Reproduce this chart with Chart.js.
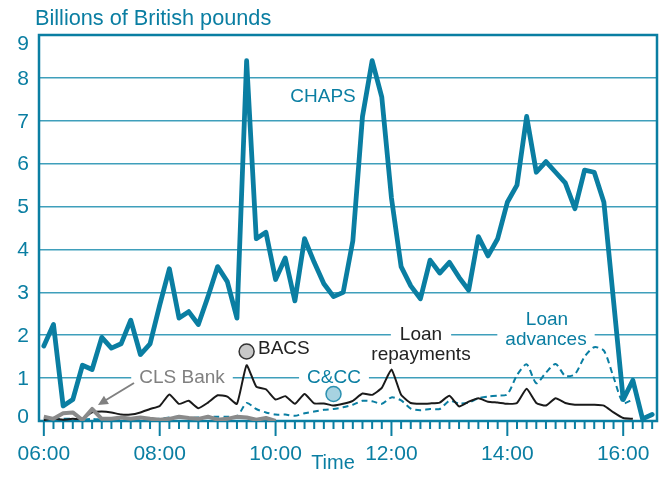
<!DOCTYPE html>
<html>
<head>
<meta charset="utf-8">
<script src="https://cdn.jsdelivr.net/npm/chart.js@4"></script>
<style>
  body { margin: 0; background: #fff; }
</style>
</head>
<body>
<canvas id="grafico" width="661" height="479"></canvas>
<script>
const horas = [
  "06:00", "06:10", "06:20", "06:30", "06:40", "06:50",
  "07:00", "07:10", "07:20", "07:30", "07:40", "07:50",
  "08:00", "08:10", "08:20", "08:30", "08:40", "08:50",
  "09:00", "09:10", "09:20", "09:30", "09:40", "09:50",
  "10:00", "10:10", "10:20", "10:30", "10:40", "10:50",
  "11:00", "11:10", "11:20", "11:30", "11:40", "11:50",
  "12:00", "12:10", "12:20", "12:30", "12:40", "12:50",
  "13:00", "13:10", "13:20", "13:30", "13:40", "13:50",
  "14:00", "14:10", "14:20", "14:30", "14:40", "14:50",
  "15:00", "15:10", "15:20", "15:30", "15:40", "15:50",
  "16:00", "16:10", "16:20", "16:30"
];
const etiquetasEje = ["06:00", "08:00", "10:00", "12:00", "14:00", "16:00"];
const valoresEje = [0, 1, 2, 3, 4, 5, 6, 7, 8, 9];

const chaps = [
  1.75, 2.25, 0.35, 0.5, 1.3, 1.2,
  1.95, 1.7, 1.8, 2.35, 1.55, 1.8,
  2.7, 3.55, 2.4, 2.55, 2.25, 2.9,
  3.6, 3.25, 2.4, 8.4, 4.25, 4.4,
  3.3, 3.8, 2.8, 4.25, 3.7, 3.2,
  2.9, 3.0, 4.2, 7.1, 8.4, 7.55,
  5.2, 3.6, 3.15, 2.85, 3.75, 3.45,
  3.7, 3.35, 3.05, 4.3, 3.85, 4.25,
  5.1, 5.5, 7.1, 5.8, 6.05, 5.8,
  5.55, 4.95, 5.85, 5.8, 5.1, 2.8,
  0.5, 0.95, 0.05, 0.15
];

const clsBank = [
  0.1, 0.05, 0.18, 0.2, 0.02, 0.28,
  0.05, 0.05, 0.08, 0.05, 0.08, 0.05,
  0.03, 0.05, 0.1, 0.07, 0.05, 0.1,
  0.03, 0.05, 0.1, 0.08, 0.03, 0.07,
  0.0
];

const devoluciones = [
  0.02, 0.05, 0.03, 0.05, 0.05, 0.2,
  0.22, 0.2, 0.15, 0.15, 0.2, 0.28,
  0.35, 0.62, 0.4, 0.47, 0.3, 0.43,
  0.6, 0.57, 0.4, 1.3, 0.8, 0.74,
  0.5, 0.58, 0.4, 0.63, 0.41, 0.41,
  0.36, 0.4, 0.47, 0.64, 0.61, 0.77,
  1.2, 0.61, 0.42, 0.4, 0.41, 0.43,
  0.59, 0.34, 0.45, 0.53, 0.45, 0.43,
  0.4, 0.42, 0.75, 0.42, 0.36, 0.53,
  0.42, 0.38, 0.38, 0.38, 0.36, 0.2,
  0.07, 0.05
];

const adelantos = [
  0.03, 0.03, 0.05, 0.05, 0.03, 0.05,
  0.03, 0.03, 0.05, 0.05, 0.05, 0.05,
  0.05, 0.08, 0.1, 0.08, 0.08, 0.1,
  0.1, 0.1, 0.1, 0.42, 0.28, 0.2,
  0.15, 0.15, 0.12, 0.18, 0.22, 0.26,
  0.28, 0.32, 0.38, 0.47, 0.46, 0.4,
  0.55, 0.48, 0.29, 0.25, 0.28, 0.28,
  0.47, 0.41, 0.43, 0.53, 0.57, 0.59,
  0.62, 1.07, 1.32, 0.88, 1.13, 1.33,
  1.05, 1.09, 1.5, 1.72, 1.64, 1.02,
  0.42, 0.5
];

const bacs = [{ x: "09:30", y: 1.62 }];
const cycc = [{ x: "11:00", y: 0.63 }];

const TEAL = "#0a7ea2";
const GRID = "#3f9fbb";
const FUENTE = "'Liberation Sans', Arial, sans-serif";

function texto(ctx, str, x, y, color, align, fondo) {
  ctx.font = "19px " + FUENTE;
  ctx.textAlign = align;
  ctx.textBaseline = "middle";
  if (fondo) {
    const w = ctx.measureText(str).width;
    const x0 = align === "center" ? x - w / 2 : x;
    ctx.fillStyle = "#fff";
    ctx.fillRect(x0 - fondo, y - 11, w + 2 * fondo, 22);
  }
  ctx.fillStyle = color;
  ctx.fillText(str, x, y);
}

const marco = {
  id: "marco",
  beforeDraw(chart) {
    const c = chart.ctx;
    c.save();
    c.fillStyle = "#fff";
    c.fillRect(0, 0, chart.width, chart.height);
    c.restore();
  },
  beforeDatasetsDraw(chart) {
    const c = chart.ctx;
    const a = chart.chartArea;
    const xs = chart.scales.x;
    const ys = chart.scales.y;
    c.save();
    // marco del grafico
    c.strokeStyle = TEAL;
    c.lineWidth = 2.5;
    c.strokeRect(a.left, a.top, a.right - a.left, a.bottom - a.top);
    // marcas del eje x
    c.lineWidth = 2;
    horas.forEach((h, i) => {
      const px = xs.getPixelForValue(i);
      const largo = etiquetasEje.includes(h) ? 15 : 8;
      c.beginPath();
      c.moveTo(px, a.bottom);
      c.lineTo(px, a.bottom + largo);
      c.stroke();
    });
    // numeros del eje y (0 y 9 van hacia dentro)
    c.font = "21px " + FUENTE;
    c.fillStyle = TEAL;
    c.textAlign = "right";
    c.textBaseline = "middle";
    valoresEje.forEach(v => {
      let py = ys.getPixelForValue(v);
      if (v === 9) py += 8;
      if (v === 0) py -= 5;
      c.fillText(String(v), a.left - 10, py + 1);
    });
    // titulos
    c.font = "21.7px " + FUENTE;
    c.textAlign = "left";
    c.textBaseline = "alphabetic";
    c.fillText("Billions of British pounds", 35, 25);
    c.font = "20px " + FUENTE;
    c.textAlign = "center";
    c.fillText("Time", 333, 469);
    // etiquetas de series
    texto(c, "CHAPS", 323, 97, TEAL, "center");
    texto(c, "BACS", 258, 349, "#222", "left");
    texto(c, "CLS Bank", 182, 378, "#808080", "center", 8);
    texto(c, "C&CC", 334, 378, TEAL, "center", 8);
    texto(c, "Loan", 421, 335, "#222", "center", 9);
    texto(c, "repayments", 421, 355, "#222", "center");
    texto(c, "Loan", 547, 320, TEAL, "center");
    texto(c, "advances", 546, 340, TEAL, "center", 8);
    // flecha CLS Bank
    c.strokeStyle = "#808080";
    c.fillStyle = "#808080";
    c.lineWidth = 2;
    c.beginPath();
    c.moveTo(134, 383);
    c.lineTo(106, 400);
    c.stroke();
    const ang = Math.atan2(405 - 383, 98 - 134);
    c.beginPath();
    c.moveTo(98, 405);
    c.lineTo(98 - 11 * Math.cos(ang - 0.45), 405 - 11 * Math.sin(ang - 0.45));
    c.lineTo(98 - 11 * Math.cos(ang + 0.45), 405 - 11 * Math.sin(ang + 0.45));
    c.closePath();
    c.fill();
    c.restore();
  }
};

const ctx = document.getElementById("grafico").getContext("2d");
new Chart(ctx, {
  type: "line",
  data: {
    labels: horas,
    datasets: [
      { label: "CHAPS", data: chaps, borderColor: TEAL, borderWidth: 4.8, pointRadius: 0, borderJoinStyle: "round", borderCapStyle: "round" },
      { label: "CLS Bank", data: clsBank, borderColor: "#8a8a8a", borderWidth: 4, pointRadius: 0, borderJoinStyle: "round" },
      { label: "BACS", data: bacs, showLine: false, pointRadius: 7.5, pointBackgroundColor: "#c8c8c8", pointBorderColor: "#333", pointBorderWidth: 1.5 },
      { label: "C&CC", data: cycc, showLine: false, pointRadius: 7.5, pointBackgroundColor: "#a7d3e1", pointBorderColor: "#2b90b0", pointBorderWidth: 1.5 },
      { label: "Loan repayments", data: devoluciones, borderColor: "#1a1a1a", borderWidth: 2, pointRadius: 0, tension: 0.15 },
      { label: "Loan advances", data: adelantos, borderColor: TEAL, borderWidth: 2, borderDash: [6, 4], pointRadius: 0, tension: 0.25 }
    ]
  },
  options: {
    responsive: false,
    animation: false,
    layout: { autoPadding: false, padding: { top: 35, right: 4, left: 0, bottom: 0 } },
    plugins: { legend: { display: false }, tooltip: { enabled: false } },
    scales: {
      x: {
        type: "category",
        offset: true,
        grid: { display: false, drawTicks: false },
        border: { display: false },
        ticks: {
          autoSkip: false,
          maxRotation: 0,
          padding: 21,
          color: TEAL,
          font: { family: FUENTE, size: 21 },
          callback: (v, i) => etiquetasEje.includes(horas[i]) ? horas[i] : ""
        },
        afterFit: s => { s.height = 58; s.paddingLeft = 0; s.paddingRight = 0; }
      },
      y: {
        min: 0,
        max: 9,
        ticks: { stepSize: 1, display: false },
        grid: { color: GRID, lineWidth: 1.5, drawTicks: false },
        border: { display: false },
        afterFit: s => { s.width = 39; s.paddingTop = 0; s.paddingBottom = 0; }
      }
    }
  },
  plugins: [marco]
});
</script>
</body>
</html>
